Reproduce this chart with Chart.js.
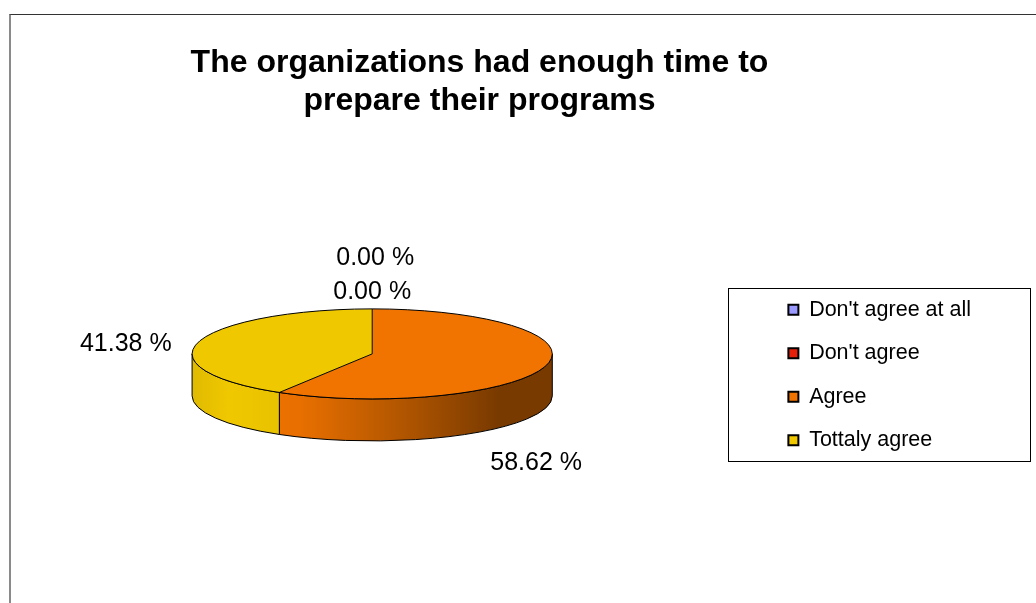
<!DOCTYPE html>
<html lang="en">
<head>
<meta charset="UTF-8">
<title>The organizations had enough time to prepare their programs</title>
<script src="https://cdn.jsdelivr.net/npm/chart.js"></script>
<style>
    html, body {
        margin: 0;
        padding: 0;
        background: #fff;
        overflow: hidden;
    }
    .frame {
        position: absolute;
        left: 9px;
        top: 14px;
        width: 1100px;
        height: 700px;
        border-top: 1px solid #333;
        border-left: 2px solid #8a8a8a;
        box-sizing: border-box;
    }
    /* canvas starts a bit left of the page so the pie sits where Excel put it */
    .chart-container {
        position: absolute;
        left: -22px;
        top: 0;
        width: 1058px;
        height: 603px;
    }
</style>
</head>
<body>
<div class="frame"></div>
<div class="chart-container">
    <canvas id="pieChart" width="1058" height="603"></canvas>
</div>

<script>
    const categories = ["Don't agree at all", "Don't agree", 'Agree', 'Tottaly agree'];
    const percentages = [0, 0, 58.62, 41.38];
    const sliceColors = ['#9999FF', '#E8200A', '#F27400', '#F0C800'];
    const titleLines = ['The organizations had enough time to', 'prepare their programs'];

    const FONT = "'Liberation Sans', Arial, sans-serif";
    const tilt = 0.25;   // ry / rx of the top face
    const depth = 42;    // height of the pie wall

    Chart.defaults.font.family = FONT;
    Chart.defaults.color = '#000';

    const hexToRgb = (hex) => {
        const n = parseInt(hex.slice(1), 16);
        return [(n >> 16) & 255, (n >> 8) & 255, n & 255];
    };
    const shade = (hex, f) => {
        const [r, g, b] = hexToRgb(hex);
        return `rgb(${Math.round(r * f)},${Math.round(g * f)},${Math.round(b * f)})`;
    };

    // flattens the pie and adds a wall, then writes the value labels
    const pie3d = {
        id: 'pie3d',
        beforeDatasetsDraw(chart) {
            const ctx = chart.ctx;
            const arcs = chart.getDatasetMeta(0).data;
            if (!arcs.length) return;
            const { x: cx, y: cy, outerRadius: r } = arcs[0];
            const rx = r, ry = r * tilt;
            const topY = cy - depth / 2;

            arcs.forEach((arc, i) => {
                if (!percentages[i]) return;
                const grad = ctx.createLinearGradient(cx - rx, 0, cx + rx, 0);
                const base = sliceColors[i];
                grad.addColorStop(0, shade(base, 0.93));
                grad.addColorStop(0.1, shade(base, 1));
                grad.addColorStop(0.3, shade(base, 0.96));
                grad.addColorStop(0.35, shade(base, 0.92));
                grad.addColorStop(0.6, shade(base, 0.72));
                grad.addColorStop(0.85, shade(base, 0.5));
                grad.addColorStop(1, shade(base, 0.5));
                for (let k = 0; k <= 1; k++) {
                    const lo = Math.max(arc.startAngle, 2 * Math.PI * k);
                    const hi = Math.min(arc.endAngle, Math.PI + 2 * Math.PI * k);
                    if (hi <= lo) continue;
                    ctx.save();
                    ctx.beginPath();
                    ctx.ellipse(cx, topY, rx, ry, 0, lo, hi);
                    ctx.ellipse(cx, topY + depth, rx, ry, 0, hi, lo, true);
                    ctx.closePath();
                    ctx.fillStyle = grad;
                    ctx.fill();
                    ctx.lineWidth = 1;
                    ctx.strokeStyle = '#000';
                    ctx.stroke();
                    ctx.restore();
                }
            });

            ctx.save();
            ctx.translate(cx, topY);
            ctx.scale(1, tilt);
            ctx.translate(-cx, -cy);
        },
        afterDatasetsDraw(chart) {
            const ctx = chart.ctx;
            const arcs = chart.getDatasetMeta(0).data;
            if (!arcs.length) return;
            ctx.restore();
            const { x: cx, y: cy, outerRadius: r } = arcs[0];
            const rx = r, ry = r * tilt;
            const topY = cy - depth / 2;

            ctx.save();
            ctx.strokeStyle = '#000';
            ctx.lineWidth = 1;
            ctx.beginPath();
            ctx.ellipse(cx, topY, rx, ry, 0, 0, Math.PI * 2);
            ctx.stroke();
            arcs.forEach((arc, i) => {
                if (!percentages[i]) return;
                ctx.beginPath();
                ctx.moveTo(cx, topY);
                ctx.lineTo(cx + rx * Math.cos(arc.startAngle), topY + ry * Math.sin(arc.startAngle));
                ctx.stroke();
            });

            // value labels
            ctx.font = `25px ${FONT}`;
            ctx.fillStyle = '#000';
            ctx.textBaseline = 'middle';
            const mids = arcs.map(a => (a.startAngle + a.endAngle) / 2);
            arcs.forEach((arc, i) => {
                const mid = mids[i];
                const cos = Math.cos(mid), sin = Math.sin(mid);
                const text = percentages[i].toFixed(2) + ' %';
                let x, y;
                if (sin > 0) {
                    ctx.textAlign = 'center';
                    x = cx + (rx - 10) * cos;
                    y = topY + ry + depth + 22;
                } else if (Math.abs(cos) > 0.5) {
                    ctx.textAlign = cos < 0 ? 'right' : 'left';
                    x = cx + (rx + 28) * cos;
                    y = topY + ry * sin + 2;
                } else {
                    const stack = mids.filter((m, j) => j > i && Math.abs(m - mid) < 0.05).length;
                    ctx.textAlign = 'center';
                    x = cx + (rx + 28) * cos + stack * 3;
                    y = topY - ry - 17 - stack * 34;
                }
                ctx.fillText(text, x, y);
            });
            ctx.restore();
        },
        afterDraw(chart) {
            const boxes = chart.legend && chart.legend.legendHitBoxes;
            if (!boxes || !boxes.length) return;
            const ctx = chart.ctx;
            const left = Math.min(...boxes.map(b => b.left));
            const top = Math.min(...boxes.map(b => b.top));
            const right = Math.max(...boxes.map(b => b.left + b.width));
            const bottom = Math.max(...boxes.map(b => b.top + b.height));
            ctx.save();
            ctx.strokeStyle = '#000';
            ctx.lineWidth = 1;
            ctx.strokeRect(Math.round(left - 60) + 0.5, Math.round(top - 11) + 0.5,
                Math.round(right - left + 119), Math.round(bottom - top + 21));
            ctx.restore();
        }
    };

    const defaultLabels = (Chart.overrides.pie || Chart.overrides.doughnut).plugins.legend.labels.generateLabels;

    const ctx = document.getElementById('pieChart').getContext('2d');
    const pieChart = new Chart(ctx, {
        type: 'pie',
        data: {
            labels: categories,
            datasets: [{
                data: percentages,
                backgroundColor: sliceColors,
                borderWidth: 0,
                hoverOffset: 0,
                clip: false
            }]
        },
        options: {
            responsive: false,
            animation: false,
            layout: {
                padding: { left: 0, right: 55, top: 0, bottom: 48 }
            },
            plugins: {
                title: {
                    display: true,
                    text: titleLines,
                    color: '#000',
                    font: { size: 32, weight: 'bold', family: FONT, lineHeight: 1.2 },
                    padding: { top: 44, bottom: 74 }
                },
                legend: {
                    position: 'right',
                    fullSize: false,
                    labels: {
                        boxWidth: 10,
                        boxHeight: 10,
                        padding: 22,
                        color: '#000',
                        font: { size: 21.5, family: FONT },
                        generateLabels(chart) {
                            const items = defaultLabels(chart);
                            items.forEach(it => {
                                it.strokeStyle = '#000';
                                it.lineWidth = 2;
                            });
                            return items;
                        }
                    }
                },
                tooltip: { enabled: false }
            }
        },
        plugins: [pie3d]
    });
</script>
</body>
</html>
